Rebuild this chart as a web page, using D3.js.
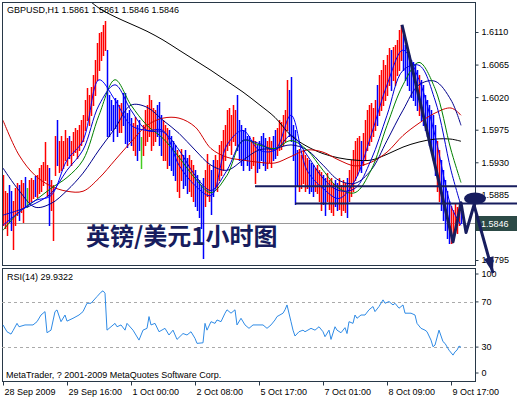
<!DOCTYPE html>
<html>
<head>
<meta charset="utf-8">
<script src="https://cdn.jsdelivr.net/npm/d3@7"></script>
<style>
  body { margin: 0; background: #fff; }
  svg { display: block; font-family: "Liberation Sans", Arial, sans-serif; }
</style>
</head>
<body>
<div id="chart"></div>
<script>
var symbol = "GBPUSD"
var period = "H1"
var headerOHLC = [1.5861, 1.5861, 1.5846, 1.5846]
var rsiPeriod = 14
var rsiLast = 29.9322
var annotation = "英镑/美元1小时图"
var copyright = "MetaTrader, ? 2001-2009 MetaQuotes Software Corp."

var priceTicks = [1.6110, 1.6065, 1.6020, 1.5975, 1.5930, 1.5885, 1.5840, 1.5795]
var rsiTicks = [100, 70, 30, 0]
var rsiLevels = [70, 30]
var timeLabels = ["28 Sep 2009", "29 Sep 16:00", "1 Oct 00:00", "2 Oct 08:00", "5 Oct 17:00", "7 Oct 01:00", "8 Oct 09:00", "9 Oct 17:00"]
var timeLabelBars = [0, 32, 64, 96, 128, 160, 192, 224]

// hourly bars, oldest first
var highs = [1.5912, 1.5891, 1.5888, 1.5898, 1.5891, 1.5877, 1.5894, 1.5902, 1.5898, 1.5905,
  1.5901, 1.5909, 1.5895, 1.5905, 1.5908, 1.5905, 1.5911, 1.5912, 1.5922, 1.5926,
  1.5930, 1.5958, 1.5926, 1.5922, 1.5905, 1.5898, 1.5967, 1.5988, 1.5960, 1.5967,
  1.5960, 1.5974, 1.5963, 1.5967, 1.5960, 1.5972, 1.5977, 1.5974, 1.5981, 1.5988,
  1.5995, 1.6016, 1.6032, 1.6023, 1.6034, 1.6050, 1.6071, 1.6095, 1.6109, 1.6110,
  1.6120, 1.6125, 1.6085, 1.6023, 1.6016, 1.6009, 1.6019, 1.6016, 1.6009, 1.6012,
  1.6026, 1.6026, 1.5998, 1.6002, 1.5991, 1.5984, 1.5992, 1.5981, 1.5988, 1.5965,
  1.5981, 1.6002, 1.6009, 1.6023, 1.6016, 1.6005, 1.6002, 1.6009, 1.6013, 1.5995,
  1.5988, 1.5981, 1.5977, 1.5974, 1.5967, 1.5960, 1.5954, 1.5947, 1.5940, 1.5949,
  1.5940, 1.5947, 1.5936, 1.5940, 1.5933, 1.5926, 1.5919, 1.5912, 1.5905, 1.5898,
  1.5908, 1.5919, 1.5942, 1.5926, 1.5919, 1.5933, 1.5940, 1.5933, 1.5954, 1.5960,
  1.5974, 1.5981, 1.6002, 1.6005, 1.5995, 1.6009, 1.6002, 1.6023, 1.5988, 1.5981,
  1.5974, 1.5977, 1.5967, 1.5967, 1.5960, 1.5965, 1.5960, 1.5954, 1.5960, 1.5967,
  1.5970, 1.5963, 1.5960, 1.5965, 1.5960, 1.5967, 1.5974, 1.5977, 1.5988, 1.5985,
  1.5995, 1.6002, 1.6044, 1.6030, 1.6048, 1.5981, 1.5974, 1.5947, 1.5949, 1.5940,
  1.5947, 1.5940, 1.5936, 1.5933, 1.5929, 1.5926, 1.5922, 1.5926, 1.5919, 1.5916,
  1.5912, 1.5908, 1.5915, 1.5905, 1.5908, 1.5902, 1.5905, 1.5901, 1.5908, 1.5898,
  1.5905, 1.5901, 1.5908, 1.5919, 1.5933, 1.5947, 1.5960, 1.5963, 1.5967, 1.5960,
  1.5970, 1.5988, 1.6002, 1.6009, 1.6012, 1.6005, 1.6016, 1.6037, 1.6050, 1.6057,
  1.6071, 1.6064, 1.6078, 1.6088, 1.6085, 1.6089, 1.6092, 1.6099, 1.6113, 1.6120,
  1.6106, 1.6092, 1.6085, 1.6078, 1.6071, 1.6068, 1.6064, 1.6057, 1.6050, 1.6044,
  1.6037, 1.6023, 1.6016, 1.6009, 1.6002, 1.5995, 1.5981, 1.5960, 1.5947, 1.5933,
  1.5919, 1.5905, 1.5891, 1.5877, 1.5870, 1.5864, 1.5873, 1.5868, 1.5873, 1.5861]

var lows = [1.5843, 1.5839, 1.5829, 1.5847, 1.5836, 1.5810, 1.5843, 1.5857, 1.5850, 1.5861,
  1.5847, 1.5870, 1.5868, 1.5873, 1.5877, 1.5880, 1.5884, 1.5882, 1.5888, 1.5891,
  1.5898, 1.5905, 1.5884, 1.5843, 1.5864, 1.5822, 1.5912, 1.5926, 1.5916, 1.5919,
  1.5922, 1.5933, 1.5926, 1.5936, 1.5926, 1.5940, 1.5944, 1.5936, 1.5947, 1.5954,
  1.5960, 1.5974, 1.5988, 1.5981, 1.5995, 1.6009, 1.6023, 1.6044, 1.6057, 1.6071,
  1.6078, 1.6085, 1.5967, 1.5967, 1.5974, 1.5960, 1.5977, 1.5967, 1.5972, 1.5972,
  1.5981, 1.5956, 1.5951, 1.5960, 1.5954, 1.5947, 1.5940, 1.5933, 1.5947, 1.5922,
  1.5940, 1.5954, 1.5960, 1.5967, 1.5947, 1.5954, 1.5960, 1.5967, 1.5954, 1.5940,
  1.5933, 1.5933, 1.5922, 1.5926, 1.5919, 1.5912, 1.5905, 1.5891, 1.5882, 1.5905,
  1.5894, 1.5898, 1.5887, 1.5891, 1.5884, 1.5877, 1.5870, 1.5864, 1.5854, 1.5839,
  1.5798, 1.5870, 1.5884, 1.5877, 1.5859, 1.5884, 1.5895, 1.5891, 1.5905, 1.5912,
  1.5919, 1.5933, 1.5947, 1.5954, 1.5942, 1.5960, 1.5954, 1.5947, 1.5933, 1.5926,
  1.5919, 1.5933, 1.5926, 1.5919, 1.5922, 1.5926, 1.5901, 1.5916, 1.5922, 1.5933,
  1.5926, 1.5919, 1.5922, 1.5930, 1.5923, 1.5933, 1.5936, 1.5940, 1.5947, 1.5949,
  1.5954, 1.5960, 1.5974, 1.5967, 1.5960, 1.5933, 1.5873, 1.5898, 1.5891, 1.5895,
  1.5902, 1.5891, 1.5894, 1.5888, 1.5891, 1.5884, 1.5891, 1.5888, 1.5877, 1.5864,
  1.5873, 1.5857, 1.5877, 1.5866, 1.5861, 1.5857, 1.5870, 1.5864, 1.5866, 1.5857,
  1.5864, 1.5861, 1.5854, 1.5877, 1.5884, 1.5891, 1.5905, 1.5912, 1.5919, 1.5916,
  1.5926, 1.5933, 1.5947, 1.5954, 1.5960, 1.5967, 1.5974, 1.5981, 1.5995, 1.6002,
  1.6009, 1.6016, 1.6023, 1.6037, 1.6030, 1.6044, 1.6037, 1.6050, 1.6057, 1.6071,
  1.6057, 1.6044, 1.6037, 1.6030, 1.6020, 1.6016, 1.6009, 1.6002, 1.5995, 1.5988,
  1.5981, 1.5974, 1.5967, 1.5954, 1.5947, 1.5933, 1.5912, 1.5891, 1.5877, 1.5864,
  1.5850, 1.5836, 1.5825, 1.5818, 1.5818, 1.5822, 1.5833, 1.5832, 1.5843, 1.5846]

// u = up bar, d = down bar, n = open equals close
var barDirs = "uuudduuudu" + "udnuuuduuu" + "uuuduuuduu" + "uuuduuuuuu" + "uuuuuuuuuu" +
  "uudddddduu" + "ddddduuddn" + "uuuuuuuddd" + "uuudddduuu" + "ddduuudddd" +
  "duuudduuuu" + "uuuuuuuddd" + "dddduuuddd" + "dduuudduuu" + "uuuddddduu" +
  "uuuddduuuu" + "dduuuudduu" + "uuduuuuuud" + "uuuuuuuduu" + "uuuuduuuuu" +
  "ddddddddud" + "ddddddduud" + "dddduuuuud"

// moving averages read every 8 bars
var maBars = [0, 8, 16, 24, 32, 40, 48, 56, 64, 72, 80, 88, 96, 104, 112, 120, 128, 136, 144, 152, 160, 168, 176, 184, 192, 200, 208, 216, 224, 229]
var maFast = [1.5843, 1.5861, 1.5877, 1.5884, 1.5933, 1.5960, 1.6044, 1.6016, 1.5981, 1.5974, 1.5974, 1.5926, 1.5898, 1.5884, 1.5954, 1.5974, 1.5947, 1.5947, 1.5995, 1.5919, 1.5894, 1.5880, 1.5905, 1.5967, 1.6037, 1.6085, 1.6044, 1.5967, 1.5870, 1.5843]
var maMid = [1.5857, 1.5864, 1.5873, 1.5887, 1.5919, 1.5947, 1.6009, 1.6037, 1.6002, 1.5974, 1.5972, 1.5947, 1.5912, 1.5891, 1.5919, 1.5960, 1.5956, 1.5947, 1.5967, 1.5940, 1.5908, 1.5891, 1.5894, 1.5933, 1.5995, 1.6057, 1.6064, 1.6016, 1.5919, 1.5870]
var maGreen = [1.5836, 1.5861, 1.5877, 1.5894, 1.5909, 1.5933, 1.5995, 1.6044, 1.6009, 1.5981, 1.5963, 1.5937, 1.5908, 1.5888, 1.5912, 1.5960, 1.5954, 1.5949, 1.5960, 1.5947, 1.5919, 1.5894, 1.5888, 1.5919, 1.5981, 1.6037, 1.6068, 1.6032, 1.5947, 1.5902]
var maSlow = [1.5922, 1.5891, 1.5868, 1.5873, 1.5891, 1.5915, 1.5947, 1.5977, 1.6009, 1.6006, 1.5988, 1.5970, 1.5947, 1.5926, 1.5919, 1.5933, 1.5947, 1.5949, 1.5954, 1.5947, 1.5926, 1.5905, 1.5901, 1.5919, 1.5960, 1.6002, 1.6037, 1.6042, 1.6016, 1.5981]
var maRed = [1.5988, 1.5940, 1.5912, 1.5897, 1.5890, 1.5890, 1.5908, 1.5933, 1.5958, 1.5981, 1.5991, 1.5991, 1.5979, 1.5949, 1.5937, 1.5933, 1.5930, 1.5929, 1.5938, 1.5947, 1.5944, 1.5933, 1.5925, 1.5930, 1.5944, 1.5967, 1.5984, 1.5998, 1.6005, 1.5995]
var maBlack = [null, null, null, null, null, 1.6161, 1.6143, 1.6131, 1.6121, 1.6111, 1.6099, 1.6085, 1.6071, 1.6057, 1.6042, 1.6027, 1.6010, 1.5992, 1.5967, 1.5952, 1.5942, 1.5936, 1.5933, 1.5933, 1.5941, 1.5951, 1.5958, 1.5962, 1.5962, 1.5959]

// [bar, RSI]
var rsiPoints = [[0, 49.6], [2, 43.6], [4, 41.5], [5, 44.5], [7, 51], [8, 48], [11, 49.6], [15, 49.6], [17, 52.5], [19, 58.4],
  [21, 61.4], [22, 42.7], [24, 45], [26, 61.4], [27, 62.9], [29, 52.5], [31, 58.4], [32, 53], [35, 55.5], [38, 58.4],
  [40, 61.4], [42, 68.8], [44, 68.8], [47, 74.7], [49, 78.6], [50, 79.8], [51, 77.7], [52, 45], [54, 48], [56, 51],
  [57, 48], [59, 49.6], [61, 45], [62, 51], [65, 45], [68, 36.2], [70, 45], [72, 46.6], [73, 57], [74, 49.6],
  [76, 51], [78, 43.6], [81, 46.6], [83, 40.7], [85, 45], [87, 36.8], [90, 42], [92, 40.7], [94, 43.6], [96, 37.7],
  [97, 33.3], [100, 33.8], [101, 51], [102, 45], [104, 52.5], [106, 51], [107, 54], [109, 52.5], [111, 60], [112, 63],
  [114, 60], [116, 63], [117, 49.6], [119, 55.5], [121, 49.6], [123, 46.6], [125, 49.6], [127, 49.6], [130, 49.6], [132, 46.6],
  [134, 49.6], [136, 54], [137, 57], [140, 60], [141, 63], [142, 67.3], [144, 52.5], [145, 45], [146, 39.8], [148, 43.6],
  [150, 45], [151, 43.6], [154, 46.6], [156, 45], [158, 48], [160, 43.6], [161, 39.2], [163, 45], [164, 36.8], [166, 48],
  [167, 45], [169, 42.7], [171, 47.2], [172, 42], [173, 52.5], [175, 51], [176, 58.4], [177, 55.5], [179, 58.4], [181, 58.4],
  [183, 63], [185, 65.9], [186, 61.4], [188, 65.9], [190, 71.8], [191, 68.8], [193, 70.3], [195, 67.3], [196, 68.8], [198, 64.4],
  [200, 67.3], [201, 60], [204, 60], [206, 58.4], [207, 51], [209, 46.6], [211, 45], [212, 43.6], [214, 36.2], [215, 30.3],
  [216, 31.8], [218, 45], [220, 34.8], [221, 33.3], [223, 27.3], [225, 22.9], [226, 25.8], [227, 27.3], [228, 30.9], [229, 29.9]]

// drawn objects, in [bar, price]
var levelPrices = [1.5897, 1.5873]
var levelStartBars = [126, 146]
var zigzag = [[199.5, 1.6120], [225, 1.5820], [229, 1.5874], [231.5, 1.5833], [235.5, 1.5871], [245, 1.5777]]
var marker = [236, 1.5880]

var width = 517
var height = 399
var mainBox = { left: 2, right: 475, top: 2, bottom: 265 }
var rsiBox = { left: 2, right: 475, top: 268, bottom: 381 }
var navy = "#171d5e"

var svg = d3.select("#chart")
    .append("svg")
    .attr("width", width)
    .attr("height", height)

svg.append("rect").attr("width", width).attr("height", height).attr("fill", "#fff")

var defs = svg.append("defs")
defs.append("clipPath").attr("id", "clipMain").append("rect")
    .attr("x", mainBox.left).attr("y", mainBox.top)
    .attr("width", mainBox.right - mainBox.left).attr("height", mainBox.bottom - mainBox.top)
defs.append("clipPath").attr("id", "clipRsi").append("rect")
    .attr("x", rsiBox.left).attr("y", rsiBox.top)
    .attr("width", rsiBox.right - rsiBox.left).attr("height", rsiBox.bottom - rsiBox.top)

var x = d3.scaleLinear()
    .domain([0, highs.length - 1])
    .range([3, 461])

var y = d3.scaleLinear()
    .domain([1.5795, 1.6110])
    .range([260, 32])

var yRsi = d3.scaleLinear()
    .domain([0, 100])
    .range([rsiBox.bottom, rsiBox.top])

var fmt = d3.format(".4f")
var px = v => Math.round(v) + 0.5
var lastPrice = headerOHLC[3]

// bid line
svg.append("line")
    .attr("x1", mainBox.left).attr("x2", mainBox.right)
    .attr("y1", px(y(lastPrice))).attr("y2", px(y(lastPrice)))
    .attr("stroke", "#9a9a9a")

var mainG = svg.append("g").attr("clip-path", "url(#clipMain)")

var barColor = { u: "#ff0000", d: "#0000ff", n: "#44cc22" }
mainG.selectAll("line.bar")
    .data(highs)
    .enter()
    .append("line")
    .attr("class", "bar")
    .attr("x1", (d, i) => px(x(i)))
    .attr("x2", (d, i) => px(x(i)))
    .attr("y1", (d, i) => Math.round(y(highs[i])))
    .attr("y2", (d, i) => Math.round(y(lows[i])) + 1)
    .attr("stroke", (d, i) => barColor[barDirs.charAt(i)])
    .attr("stroke-width", 1.5)

var maLine = d3.line()
    .defined(d => d[1] != null)
    .x(d => x(d[0]))
    .y(d => y(d[1]))
    .curve(d3.curveCatmullRom.alpha(0.5))

var maSeries = [
    { values: maBlack, color: "#000000" },
    { values: maRed, color: "#d00000" },
    { values: maSlow, color: "#00008c" },
    { values: maGreen, color: "#008000" },
    { values: maMid, color: "#0000d0" },
    { values: maFast, color: "#0000ff" }
]
maSeries.forEach(s => {
    mainG.append("path")
        .datum(maBars.map((b, i) => [b, s.values[i]]))
        .attr("d", maLine)
        .attr("fill", "none")
        .attr("stroke", s.color)
        .attr("stroke-width", 1)
})

// borders
svg.append("rect")
    .attr("x", mainBox.left + 0.5).attr("y", mainBox.top + 0.5)
    .attr("width", mainBox.right - mainBox.left).attr("height", mainBox.bottom - mainBox.top)
    .attr("fill", "none").attr("stroke", "#283848")
svg.append("rect")
    .attr("x", rsiBox.left + 0.5).attr("y", rsiBox.top + 0.5)
    .attr("width", rsiBox.right - rsiBox.left).attr("height", rsiBox.bottom - rsiBox.top)
    .attr("fill", "none").attr("stroke", "#283848")

// price axis; the label under the price tag is hidden as in the terminal
var yAxisG = svg.append("g")
    .attr("transform", `translate(${mainBox.right + 0.5},0)`)
    .call(d3.axisRight(y).tickValues(priceTicks).tickFormat(fmt).tickSize(3).tickPadding(3))
yAxisG.select(".domain").remove()
yAxisG.attr("font-family", null).attr("font-size", 9)
yAxisG.selectAll("line").attr("stroke", "#283848")
yAxisG.selectAll("text").attr("fill", "#000")
yAxisG.selectAll(".tick").filter(d => Math.abs(d - lastPrice) < 0.0010).select("text").remove()

// RSI panel
var rsiG = svg.append("g").attr("clip-path", "url(#clipRsi)")
rsiG.selectAll("line.level")
    .data(rsiLevels)
    .enter()
    .append("line")
    .attr("x1", rsiBox.left).attr("x2", rsiBox.right)
    .attr("y1", d => px(yRsi(d))).attr("y2", d => px(yRsi(d)))
    .attr("stroke", "#aaaaaa")
    .attr("stroke-dasharray", "3,3")

rsiG.append("path")
    .datum(rsiPoints)
    .attr("d", d3.line().x(d => x(d[0])).y(d => yRsi(d[1])))
    .attr("fill", "none")
    .attr("stroke", "#2f8be6")
    .attr("stroke-width", 1)

var rsiAxisG = svg.append("g")
    .attr("transform", `translate(${rsiBox.right + 0.5},0)`)
    .call(d3.axisRight(yRsi).tickValues(rsiTicks).tickSize(3).tickPadding(3))
rsiAxisG.select(".domain").remove()
rsiAxisG.attr("font-family", null).attr("font-size", 9)
rsiAxisG.selectAll("line").attr("stroke", "#283848")
rsiAxisG.selectAll("text").attr("fill", "#000")
rsiAxisG.selectAll(".tick")
    .attr("transform", d => `translate(0,${yRsi(d) + (d === 100 ? 6 : d === 0 ? -8 : 0)})`)

// time axis
var xAxisG = svg.append("g")
    .attr("transform", `translate(0,${rsiBox.bottom + 0.5})`)
    .call(d3.axisBottom(x).tickValues(timeLabelBars).tickFormat((d, i) => timeLabels[i]).tickSize(4).tickPadding(3))
xAxisG.select(".domain").remove()
xAxisG.attr("font-family", null).attr("font-size", 9)
xAxisG.selectAll("line").attr("stroke", "#283848")
xAxisG.selectAll("text").attr("fill", "#000").attr("text-anchor", "start").attr("x", 1)

// texts
svg.append("text")
    .attr("x", 7).attr("y", 13)
    .attr("font-size", 9)
    .text(`${symbol},${period}  ${headerOHLC.map(fmt).join(" ")}`)

svg.append("text")
    .attr("x", 7).attr("y", 280)
    .attr("font-size", 9)
    .text(`RSI(${rsiPeriod}) ${rsiLast}`)

svg.append("text")
    .attr("x", 6).attr("y", 378)
    .attr("font-size", 9)
    .text(copyright)

// current price tag
var tagY = Math.round(y(lastPrice))
svg.append("rect")
    .attr("x", mainBox.right + 1).attr("y", tagY - 7)
    .attr("width", width - mainBox.right - 1).attr("height", 15)
    .attr("fill", "#2c4a46")
svg.append("text")
    .attr("x", mainBox.right + 6).attr("y", tagY + 4)
    .attr("font-size", 9)
    .attr("fill", "#fff")
    .text(fmt(lastPrice))

// drawn objects
svg.selectAll("line.level")
    .data(levelPrices)
    .enter()
    .append("line")
    .attr("x1", (d, i) => x(levelStartBars[i])).attr("x2", width)
    .attr("y1", d => y(d)).attr("y2", d => y(d))
    .attr("stroke", navy)
    .attr("stroke-width", 2)

svg.append("text")
    .attr("x", 86).attr("y", 245)
    .attr("font-family", "'Noto Sans CJK SC', sans-serif")
    .attr("font-weight", "bold")
    .attr("font-size", 24)
    .attr("fill", navy)
    .text(annotation)

svg.append("path")
    .datum(zigzag)
    .attr("d", d3.line().x(d => x(d[0])).y(d => y(d[1])))
    .attr("fill", "none")
    .attr("stroke", navy)
    .attr("stroke-width", 3)
    .attr("stroke-linejoin", "round")

var tip = zigzag[zigzag.length - 1]
var from = zigzag[zigzag.length - 2]
var tx = x(tip[0]), ty = y(tip[1])
var ang = Math.atan2(ty - y(from[1]), tx - x(from[0]))
var headLen = 16, headHalf = 5
var bx = tx - headLen * Math.cos(ang), by = ty - headLen * Math.sin(ang)
svg.append("path")
    .attr("d", `M${tx},${ty}L${bx - headHalf * Math.sin(ang)},${by + headHalf * Math.cos(ang)}L${bx + headHalf * Math.sin(ang)},${by - headHalf * Math.cos(ang)}Z`)
    .attr("fill", navy)

svg.append("ellipse")
    .attr("cx", x(marker[0])).attr("cy", y(marker[1]))
    .attr("rx", 11).attr("ry", 6)
    .attr("fill", navy)
</script>
</body>
</html>
